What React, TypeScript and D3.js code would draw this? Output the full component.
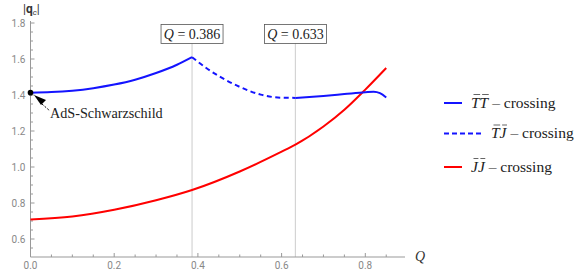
import React, { useEffect, useRef } from 'react';
import * as d3 from 'd3';

// T̄T̄ branch (solid before Q=0.386)
const ttLeftQ = [0, 0.05, 0.1, 0.15, 0.2, 0.25, 0.3, 0.35, 0.386];
const ttLeftV = [1.413, 1.416, 1.424, 1.438, 1.458, 1.485, 1.522, 1.568, 1.61];
// T̄J̄ branch (dashed between the markers)
const tjQ = [0.386, 0.42, 0.45, 0.5, 0.55, 0.6, 0.633];
const tjV = [1.61, 1.55, 1.505, 1.445, 1.402, 1.385, 1.384];
// T̄T̄ branch again (solid after Q=0.633)
const ttRightQ = [0.633, 0.7, 0.75, 0.8, 0.82, 0.835, 0.85];
const ttRightV = [1.384, 1.395, 1.405, 1.415, 1.418, 1.41, 1.386];
// J̄J̄ branch
const jjQ = [0, 0.1, 0.2, 0.3, 0.386, 0.5, 0.6, 0.633, 0.7, 0.75, 0.8, 0.85];
const jjV = [0.709, 0.725, 0.762, 0.815, 0.872, 0.975, 1.085, 1.124, 1.225, 1.318, 1.43, 1.55];

const xTicks = [0, 0.2, 0.4, 0.6, 0.8];
const yTicks = [0.6, 0.8, 1.0, 1.2, 1.4, 1.6, 1.8];
const markers = [0.386, 0.633];
const legendNames = ['TT', 'TJ', 'JJ'];

const SERIF = "'Liberation Serif', 'Times New Roman', serif";

export default function App() {
  const ref = useRef<SVGSVGElement>(null);

  useEffect(() => {
    const svg = d3.select(ref.current);
    svg.selectAll('*').remove();

    const x = d3.scaleLinear().domain([0, 0.2]).range([30.5, 114.2]);
    const y = d3.scaleLinear().domain([0.6, 1.8]).range([239, 23]);
    const x0 = x(0), yBottom = 257, xEnd = 405, yTop = 21;
    const grey = '#999';
    const labelColor = '#888';

    // marker lines
    markers.forEach((m) => {
      svg.append('line')
        .attr('x1', x(m)).attr('x2', x(m))
        .attr('y1', 43).attr('y2', yBottom)
        .attr('stroke', '#d4d4d4').attr('stroke-width', 1.2);
    });

    // axes
    svg.append('line').attr('x1', x0).attr('x2', xEnd).attr('y1', yBottom).attr('y2', yBottom)
      .attr('stroke', grey);
    svg.append('line').attr('x1', x0).attr('x2', x0).attr('y1', yBottom).attr('y2', yTop)
      .attr('stroke', grey);

    // x ticks
    d3.range(0, 0.9, 0.05).forEach((t, i) => {
      const major = i % 4 === 0;
      svg.append('line')
        .attr('x1', x(t)).attr('x2', x(t))
        .attr('y1', yBottom).attr('y2', yBottom - (major ? 4 : 2.5))
        .attr('stroke', grey);
    });
    xTicks.forEach((t) => {
      svg.append('text').attr('x', x(t)).attr('y', yBottom + 12)
        .attr('text-anchor', 'middle').attr('font-family', 'Roboto, sans-serif')
        .attr('font-size', 10).attr('fill', labelColor).text(t.toFixed(1));
    });
    // y ticks
    d3.range(0.55, 1.82, 0.05).forEach((t) => {
      const major = Math.abs(Math.round(t * 5) - t * 5) < 1e-6;
      svg.append('line')
        .attr('x1', x0).attr('x2', x0 + (major ? 4 : 2.5))
        .attr('y1', y(t)).attr('y2', y(t))
        .attr('stroke', grey);
    });
    yTicks.forEach((t) => {
      svg.append('text').attr('x', x0 - 5).attr('y', y(t) + 3.5)
        .attr('text-anchor', 'end').attr('font-family', 'Roboto, sans-serif')
        .attr('font-size', 10).attr('fill', labelColor).text(t.toFixed(1));
    });

    // axis labels
    const yl = svg.append('text').attr('x', 23).attr('y', 13)
      .attr('font-family', 'Roboto, sans-serif').attr('font-size', 12).attr('fill', '#333');
    yl.append('tspan').text('|');
    yl.append('tspan').attr('font-weight', 'bold').text('q');
    yl.append('tspan').attr('font-size', 8).attr('font-style', 'italic').attr('dy', 2).text('c');
    yl.append('tspan').attr('dy', -2).text('|');
    svg.append('text').attr('x', 415).attr('y', 261)
      .style('font-family', SERIF).attr('font-style', 'italic')
      .attr('font-size', 14).attr('fill', '#333').text('Q');

    const line = d3.line<[number, number]>()
      .x((d) => x(d[0])).y((d) => y(d[1]))
      .curve(d3.curveMonotoneX);
    const zip = (a: number[], b: number[]) => a.map((q, i) => [q, b[i]] as [number, number]);

    svg.append('path').attr('d', line(zip(jjQ, jjV)))
      .attr('fill', 'none').attr('stroke', '#f00').attr('stroke-width', 2);
    svg.append('path').attr('d', line(zip(ttLeftQ, ttLeftV)))
      .attr('fill', 'none').attr('stroke', '#1414ff').attr('stroke-width', 2);
    svg.append('path').attr('d', line(zip(tjQ, tjV)))
      .attr('fill', 'none').attr('stroke', '#1414ff').attr('stroke-width', 2)
      .attr('stroke-dasharray', '5,3.5');
    svg.append('path').attr('d', line(zip(ttRightQ, ttRightV)))
      .attr('fill', 'none').attr('stroke', '#1414ff').attr('stroke-width', 2);

    // marker boxes
    markers.forEach((m) => {
      const g = svg.append('g').attr('transform', `translate(${x(m)},34)`);
      g.append('rect').attr('x', -31).attr('y', -9.5).attr('width', 62).attr('height', 19)
        .attr('fill', '#fff').attr('stroke', '#555').attr('stroke-width', 0.8);
      const t = g.append('text').attr('x', 0).attr('y', 4.5).attr('text-anchor', 'middle')
        .style('font-family', SERIF).attr('font-size', 14).attr('fill', '#222');
      t.append('tspan').attr('font-style', 'italic').text('Q');
      t.append('tspan').text(` = ${m.toFixed(3)}`);
    });

    // AdS-Schwarzschild point
    svg.append('circle').attr('cx', x(0)).attr('cy', y(ttLeftV[0])).attr('r', 2.8).attr('fill', '#000');
    svg.append('line').attr('x1', 42).attr('y1', 104).attr('x2', 50).attr('y2', 111)
      .attr('stroke', '#000').attr('stroke-width', 1).attr('stroke-dasharray', '2,1.5');
    svg.append('path').attr('d', 'M34,95 L46,100 L41,105 Z').attr('fill', '#000');
    svg.append('text').attr('x', 50).attr('y', 118)
      .style('font-family', SERIF).attr('font-size', 14.2).attr('fill', '#222')
      .text('AdS-Schwarzschild');

    // legend
    const legend = [
      { color: '#1414ff', dash: null, w: 18, y: 103 },
      { color: '#1414ff', dash: '5,3', w: 38, y: 133.5 },
      { color: '#f00', dash: null, w: 18, y: 167 },
    ];
    legend.forEach((l, i) => {
      svg.append('line').attr('x1', 444).attr('x2', 444 + l.w).attr('y1', l.y).attr('y2', l.y)
        .attr('stroke', l.color).attr('stroke-width', 2)
        .attr('stroke-dasharray', l.dash);
      const t = svg.append('text').attr('x', 444 + l.w + 9).attr('y', l.y + 4.5)
        .style('font-family', SERIF).attr('font-size', 15.5).attr('fill', '#222');
      t.append('tspan').attr('font-style', 'italic').text(legendNames[i]);
      t.append('tspan').text(' – crossing');
      // bars over the two letters
      const node = t.node() as SVGTextElement;
      [0, 1].forEach((c) => {
        const ext = node.getExtentOfChar(c);
        svg.append('line')
          .attr('x1', ext.x + 2.5).attr('x2', ext.x + ext.width + 0.5)
          .attr('y1', l.y - 8.5).attr('y2', l.y - 8.5)
          .attr('stroke', '#222').attr('stroke-width', 0.7);
      });
    });
  }, []);

  return (
    <svg ref={ref} width={581} height={273}
      style={{ display: 'block', position: 'absolute', left: 0, top: 0 }} />
  );
}
